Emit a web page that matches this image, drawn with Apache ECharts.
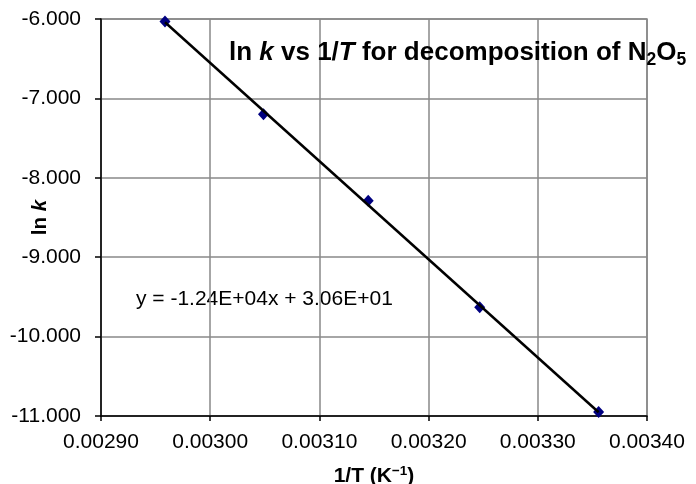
<!DOCTYPE html>
<html>
<head>
<meta charset="utf-8">
<script src="https://cdn.jsdelivr.net/npm/echarts@6/dist/echarts.min.js"></script>
<style>
  html, body { margin: 0; padding: 0; background: #fff; }
  #chart { width: 696px; height: 484px; }
</style>
</head>
<body>
<div id="chart"></div>
<script>
// 1/T in K^-1 and ln k
const invT = [0.0029586, 0.0030488, 0.0031447, 0.0032468, 0.0033557]
const lnK = [-6.03, -7.20, -8.29, -9.63, -10.95]
const xTicks = { min: 0.0029, max: 0.0034, step: 0.0001 }
const yTicks = { min: -11, max: -6, step: 1 }
const equation = 'y = -1.24E+04x + 3.06E+01'

// least squares trendline, drawn over the data range like the spreadsheet does
const n = invT.length
const mx = invT.reduce((a, b) => a + b, 0) / n
const my = lnK.reduce((a, b) => a + b, 0) / n
let sxy = 0, sxx = 0
invT.forEach((x, i) => { sxy += (x - mx) * (lnK[i] - my); sxx += (x - mx) * (x - mx) })
const slope = sxy / sxx
const icpt = my - slope * mx
const xFirst = invT[0], xLast = invT[n - 1]
const trend = [[xFirst, slope * xFirst + icpt], [xLast, slope * xLast + icpt]]

const font = 'Liberation Sans, Arial, sans-serif'
const chart = echarts.init(document.getElementById('chart'))

chart.setOption({
  animation: false,
  backgroundColor: '#fff',
  grid: {
    left: 101, top: 19, right: 49, bottom: 68,
    outerBoundsMode: 'none', containLabel: false,
    show: true, borderColor: '#888', borderWidth: 1.5
  },
  title: {
    text: '{b|ln }{bi|k}{b| vs 1/}{bi|T}{b| for decomposition of N}{sub|2}{b|O}{sub|5}',
    left: 224, top: 32,
    textStyle: {
      rich: {
        b: { fontFamily: font, fontWeight: 'bold', fontSize: 26, color: '#000' },
        bi: { fontFamily: font, fontWeight: 'bold', fontStyle: 'italic', fontSize: 26, color: '#000' },
        sub: { fontFamily: font, fontWeight: 'bold', fontSize: 17.5, color: '#000', verticalAlign: 'bottom', padding: [14, 0, 0, 0] }
      }
    }
  },
  xAxis: {
    type: 'value',
    min: xTicks.min, max: xTicks.max, interval: xTicks.step,
    name: '{b|1/T (K}{sup|−1}{b|)}',
    nameLocation: 'middle', nameGap: 48, nameMoveOverlap: false,
    nameTextStyle: {
      rich: {
        b: { fontFamily: font, fontWeight: 'bold', fontSize: 21, color: '#000' },
        sup: { fontFamily: font, fontWeight: 'bold', fontSize: 13.5, color: '#000', verticalAlign: 'top', padding: [0, 0, 10, 0] }
      }
    },
    axisLine: { lineStyle: { color: '#000', width: 1.5 } },
    axisTick: { show: true, length: 5, lineStyle: { color: '#000', width: 1.5 } },
    axisLabel: { fontFamily: font, fontSize: 21, color: '#000', margin: 16, formatter: v => v.toFixed(5) },
    splitLine: { show: true, lineStyle: { color: '#888', width: 1.5 } }
  },
  yAxis: {
    type: 'value',
    min: yTicks.min, max: yTicks.max, interval: yTicks.step,
    name: '{b|ln }{bi|k}',
    nameLocation: 'middle', nameGap: 50, nameRotate: 90, nameMoveOverlap: false,
    nameTextStyle: {
      rich: {
        b: { fontFamily: font, fontWeight: 'bold', fontSize: 20.5, color: '#000' },
        bi: { fontFamily: font, fontWeight: 'bold', fontStyle: 'italic', fontSize: 20.5, color: '#000' }
      }
    },
    axisLine: { show: true, lineStyle: { color: '#000', width: 1.5 } },
    axisTick: { show: true, length: 6, lineStyle: { color: '#000', width: 1.5 } },
    axisLabel: { fontFamily: font, fontSize: 21, color: '#000', margin: 20, formatter: v => v.toFixed(3) },
    splitLine: { show: true, lineStyle: { color: '#888', width: 1.5 } }
  },
  graphic: [{
    type: 'text', left: 136, top: 289,
    style: { text: equation, fontFamily: font, fontSize: 21, fill: '#000' }
  }],
  series: [
    {
      type: 'scatter', data: invT.map((x, i) => [x, lnK[i]]),
      symbol: 'diamond', symbolSize: [11, 12], z: 2,
      itemStyle: { color: '#000080', opacity: 1 }
    },
    {
      type: 'line', data: trend, symbol: 'none', z: 3,
      lineStyle: { color: '#000', width: 2.5 }
    }
  ]
})
</script>
</body>
</html>
